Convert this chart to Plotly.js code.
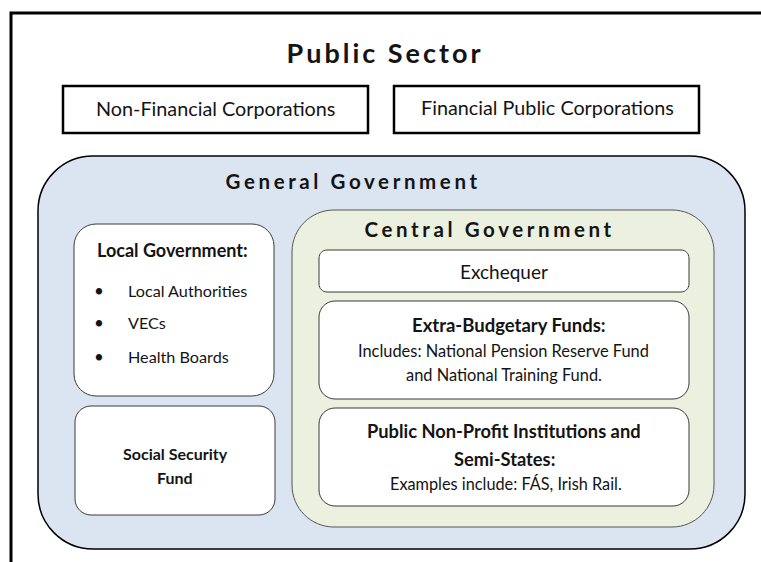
<!DOCTYPE html>
<html><head><meta charset="utf-8">
<script src="https://cdn.plot.ly/plotly-3.0.1.min.js"></script>
<style>body{margin:0;padding:0;background:#fff}#chart{width:761px;height:562px}</style>
</head><body><div id="chart"></div>
<script>
// ---- content (text) ----
var mainTitle = "Public Sector";
var corporations = ["Non-Financial Corporations", "Financial Public Corporations"];
var groupTitles = ["General Government", "Central Government"];
var localTitle = "Local Government:";
var localItems = ["Local Authorities", "VECs", "Health Boards"];
var socialSecurity = ["Social Security", "Fund"];
var exchequer = "Exchequer";
var extraBudgetary = ["Extra-Budgetary Funds:", "Includes: National Pension Reserve Fund", "and National Training Fund."];
var nonProfit = ["Public Non-Profit Institutions and", "Semi-States:", "Examples include: FÁS, Irish Rail."];

// ---- layout geometry (pixels) ----
function rr(x0, y0, x1, y1, r) {
  var k = 0.5523 * r;
  return "M" + (x0 + r) + "," + y0 + " L" + (x1 - r) + "," + y0 +
    " C" + (x1 - r + k) + "," + y0 + " " + x1 + "," + (y0 + r - k) + " " + x1 + "," + (y0 + r) +
    " L" + x1 + "," + (y1 - r) +
    " C" + x1 + "," + (y1 - r + k) + " " + (x1 - r + k) + "," + y1 + " " + (x1 - r) + "," + y1 +
    " L" + (x0 + r) + "," + y1 +
    " C" + (x0 + r - k) + "," + y1 + " " + x0 + "," + (y1 - r + k) + " " + x0 + "," + (y1 - r) +
    " L" + x0 + "," + (y0 + r) +
    " C" + x0 + "," + (y0 + r - k) + " " + (x0 + r - k) + "," + y0 + " " + (x0 + r) + "," + y0 + " Z";
}
var FONT = "Lato, 'Open Sans', sans-serif";
var TXT = "#141414";
var shapes = [];
// outer frame
shapes.push({type: "rect", xref: "x", yref: "y", x0: 11, y0: 13, x1: 820, y1: 620, line: {color: "#000", width: 3}, fillcolor: "rgba(0,0,0,0)"});
// corporation boxes
shapes.push({type: "rect", xref: "x", yref: "y", x0: 63, y0: 86, x1: 368, y1: 133, line: {color: "#000", width: 2.5}, fillcolor: "#fff"});
shapes.push({type: "rect", xref: "x", yref: "y", x0: 394, y0: 86, x1: 699, y1: 133, line: {color: "#000", width: 2.5}, fillcolor: "#fff"});
// general government
shapes.push({type: "path", xref: "x", yref: "y", path: rr(38, 156, 745, 549, 55), line: {color: "#000", width: 1.5}, fillcolor: "#dbe5f1"});
// local government, social security
shapes.push({type: "path", xref: "x", yref: "y", path: rr(74, 224, 274, 396, 22), line: {color: "#3a3a3a", width: 1}, fillcolor: "#fff"});
shapes.push({type: "path", xref: "x", yref: "y", path: rr(75, 406, 275, 515, 16), line: {color: "#3a3a3a", width: 1}, fillcolor: "#fff"});
// central government
shapes.push({type: "path", xref: "x", yref: "y", path: rr(292, 210, 714, 527, 42), line: {color: "#555", width: 1}, fillcolor: "#ebf1de"});
// central inner boxes
shapes.push({type: "path", xref: "x", yref: "y", path: rr(319, 250, 689, 292, 8), line: {color: "#3a3a3a", width: 1}, fillcolor: "#fff"});
shapes.push({type: "path", xref: "x", yref: "y", path: rr(319, 301, 689, 399, 16), line: {color: "#3a3a3a", width: 1}, fillcolor: "#fff"});
shapes.push({type: "path", xref: "x", yref: "y", path: rr(319, 408, 689, 506, 16), line: {color: "#3a3a3a", width: 1}, fillcolor: "#fff"});

var ann = [];
function A(text, x, y, size, bold, extra) {
  var a = {xref: "x", yref: "y", x: x, y: y, text: bold ? "<b>" + text + "</b>" : text, showarrow: false,
    xanchor: "center", yanchor: "middle", font: {family: FONT, size: size, color: TXT}};
  if (extra) for (var k in extra) a[k] = extra[k];
  ann.push(a);
}
A(mainTitle, 385, 52, 27, true);
A(corporations[0], 215, 108, 19.8, false);
A(corporations[1], 547, 107, 19.8, false);
A(groupTitles[0], 353, 181, 20.5, true);
A(groupTitles[1], 490, 229, 20.5, true);
A(localTitle, 172, 250, 18, true);
var bulletY = [290, 322, 356];
for (var i = 0; i < localItems.length; i++) {
  A("•", 99, bulletY[i], 17, false);
  A(localItems[i], 126, bulletY[i], 16.2, false, {xanchor: "left"});
}
A(socialSecurity[0], 175, 453, 16, true);
A(socialSecurity[1], 175, 477, 16, true);
A(exchequer, 504, 271, 19, false);
A(extraBudgetary[0], 509, 325, 18.5, true);
A(extraBudgetary[1], 503, 350, 16.4, false);
A(extraBudgetary[2], 504, 374, 16.4, false);
A(nonProfit[0], 504, 431, 18.3, true);
A(nonProfit[1], 504, 459, 18.3, true);
A(nonProfit[2], 506, 483, 16.3, false);

var layout = {
  width: 761, height: 562, margin: {l: 0, r: 0, t: 0, b: 0},
  paper_bgcolor: "#fff", plot_bgcolor: "#fff", showlegend: false,
  xaxis: {range: [0, 761], visible: false, fixedrange: true},
  yaxis: {range: [562, 0], visible: false, fixedrange: true},
  shapes: shapes, annotations: ann
};
Plotly.newPlot("chart", [{x: [], y: [], type: "scatter", mode: "markers", hoverinfo: "skip"}], layout, {staticPlot: true, displayModeBar: false}).then(function () {
  var texts = document.querySelectorAll(".annotation-text");
  texts.forEach(function (t) {
    var s = t.textContent;
    if (s === mainTitle) t.setAttribute("letter-spacing", "3");
    else if (s === groupTitles[0] || s === groupTitles[1]) t.setAttribute("letter-spacing", "3.6");
  });
});
</script></body></html>
